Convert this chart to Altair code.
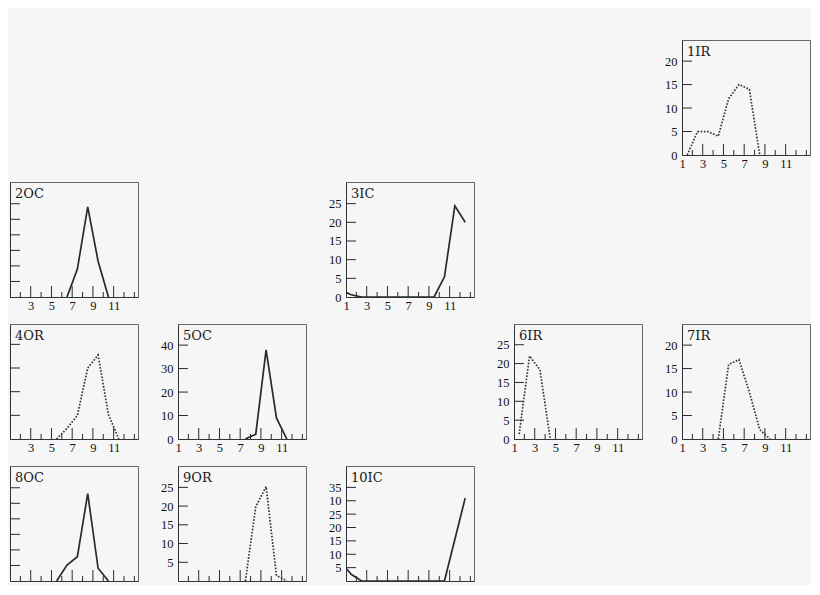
import altair as alt
import pandas as pd

# ---- data (month centres on x, counts on y) ----
names = ["1IR", "2OC", "3IC", "4OR", "5OC", "6IR", "7IR", "8OC", "9OR", "10IC"]

x_1IR = [1.5, 2.5, 3.5, 4.5, 5.5, 6.5, 7.5, 8.5]
y_1IR = [0, 5, 5, 4, 12, 15, 14, 0]

x_2OC = [6.5, 7.5, 8.5, 9.5, 10.5]
y_2OC = [0, 9, 29, 11.5, 0]

x_3IC = [0.5, 1.5, 2.5, 3.5, 4.5, 5.5, 6.5, 7.5, 8.5, 9.5, 10.5, 11.5, 12.5]
y_3IC = [1.8, 0.6, 0, 0, 0, 0, 0, 0, 0, 0, 5.4, 24.4, 20]

x_4OR = [5.5, 6.5, 7.5, 8.5, 9.5, 10.5, 11.5]
y_4OR = [0, 4.5, 10, 30, 35.5, 10.3, 0]

x_5OC = [7.5, 8.5, 9.5, 10.5, 11.5]
y_5OC = [0, 2, 38, 9, 0]

x_6IR = [1.5, 2.5, 3.5, 4.5]
y_6IR = [1.3, 22, 18.4, 0]

x_7IR = [4.5, 5.5, 6.5, 7.5, 8.5, 9.5]
y_7IR = [0, 15.9, 16.9, 10, 2, 0]

x_8OC = [5.5, 6.5, 7.5, 8.5, 9.5, 10.5]
y_8OC = [0, 5.1, 7.8, 28.1, 4.1, 0]

x_9OR = [7.5, 8.5, 9.5, 10.5, 11.5]
y_9OR = [0, 19.8, 25.2, 1.5, 0]

x_10IC = [0.5, 1.5, 2.5, 3.5, 4.5, 5.5, 6.5, 7.5, 8.5, 9.5, 10.5, 11.5, 12.5]
y_10IC = [7, 2.5, 0, 0, 0, 0, 0, 0, 0, 0, 0, 15.5, 31]

# y-axis extents and tick values per panel
ymax = {"1IR": 24.5, "2OC": 37, "3IC": 30.8, "4OR": 48.6, "5OC": 49,
        "6IR": 30.5, "7IR": 24.5, "8OC": 37, "9OR": 30.7, "10IC": 43}
yticks_5_20 = [0, 5, 10, 15, 20]
yticks_5_25 = [0, 5, 10, 15, 20, 25]
yticks_5_30 = [0, 5, 10, 15, 20, 25, 30]
yticks_5_35 = [0, 5, 10, 15, 20, 25, 30, 35]
yticks_10_40 = [0, 10, 20, 30, 40]
yticks = {"1IR": yticks_5_20, "2OC": yticks_5_30, "3IC": yticks_5_25,
          "4OR": yticks_10_40, "5OC": yticks_10_40, "6IR": yticks_5_25,
          "7IR": yticks_5_20, "8OC": yticks_5_30, "9OR": yticks_5_25,
          "10IC": yticks_5_35}

x_labels = [1, 3, 5, 7, 9, 11]
x_major = [3, 5, 7, 9, 11]
x_minor = [2, 4, 6, 8, 10, 12, 13]

series = {"1IR": (x_1IR, y_1IR), "2OC": (x_2OC, y_2OC), "3IC": (x_3IC, y_3IC),
          "4OR": (x_4OR, y_4OR), "5OC": (x_5OC, y_5OC), "6IR": (x_6IR, y_6IR),
          "7IR": (x_7IR, y_7IR), "8OC": (x_8OC, y_8OC), "9OR": (x_9OR, y_9OR),
          "10IC": (x_10IC, y_10IC)}

# grid cell (row-major, 5 columns) of each panel
cell = {"1IR": 4, "2OC": 5, "3IC": 7, "4OR": 10, "5OC": 11, "6IR": 13,
        "7IR": 14, "8OC": 15, "9OR": 16, "10IC": 17}

FONT = "Liberation Serif"
TITLE_FONT = "DejaVu Serif"
W, H = 128, 115
XDOM = [1, 13.35]
INK = "#2a2a2a"


def panel(name):
    xs, ys = series[name]
    pos = cell[name]
    col = pos % 5
    row = pos // 5
    df = pd.DataFrame({"month": xs, "value": ys})
    xscale = alt.Scale(domain=XDOM, nice=False, zero=False)
    yscale = alt.Scale(domain=[0, ymax[name]], nice=False, zero=False)

    xvals = x_labels if col != 0 else x_labels[1:]
    xaxis = alt.Axis(values=xvals, ticks=False, tickSize=0, grid=False,
                     labels=(row != 3), title=None, labelPadding=2,
                     labelFlush=False)
    expr = None
    if name == "10IC":
        expr = "datum.value == 0 ? '' : (datum.value == 30 ? '10' : datum.label)"
    elif row == 3:
        expr = "datum.value == 0 ? '' : datum.label"
    yaxis_kw = dict(values=yticks[name], ticks=False, tickSize=0, grid=False,
                    labels=(col != 0), title=None, labelPadding=5)
    if expr:
        yaxis_kw["labelExpr"] = expr
    yaxis = alt.Axis(**yaxis_kw)

    mark_kw = dict(clip=True, strokeWidth=1.7, color=INK)
    if name.endswith("R"):
        mark_kw["strokeDash"] = [1.6, 1.6]
        mark_kw["color"] = "#333"
    line = alt.Chart(df).mark_line(**mark_kw).encode(
        x=alt.X("month:Q", scale=xscale, axis=xaxis),
        y=alt.Y("value:Q", scale=yscale, axis=yaxis),
    )
    xt_major = alt.Chart(pd.DataFrame({"month": x_major})).mark_rule(
        color=INK, strokeWidth=1).encode(
        x=alt.X("month:Q", scale=xscale, axis=xaxis),
        y=alt.value(H), y2=alt.value(H - 11))
    xt_minor = alt.Chart(pd.DataFrame({"month": x_minor})).mark_rule(
        color=INK, strokeWidth=1).encode(
        x=alt.X("month:Q", scale=xscale, axis=xaxis),
        y=alt.value(H), y2=alt.value(H - 5))
    yt = alt.Chart(pd.DataFrame({"value": [v for v in yticks[name] if v > 0]})).mark_rule(
        color=INK, strokeWidth=1).encode(
        y=alt.Y("value:Q", scale=yscale, axis=yaxis),
        x=alt.value(0), x2=alt.value(10))
    label = alt.Chart(pd.DataFrame({"label": [name]})).mark_text(
        align="left", baseline="alphabetic", font=TITLE_FONT, fontSize=13,
        color="#1a1a1a").encode(x=alt.value(5), y=alt.value(15.5), text="label:N")
    return alt.layer(line, xt_major, xt_minor, yt, label).properties(
        width=W, height=H, view=alt.ViewBackground(stroke="#666", strokeWidth=1))


def empty():
    base = alt.Chart(pd.DataFrame({"v": [0]})).mark_point(opacity=0).encode(
        x=alt.X("v:Q", axis=None), y=alt.Y("v:Q", axis=None))
    return alt.layer(base).properties(
        width=W, height=H, view=alt.ViewBackground(stroke="transparent"))


by_cell = {cell[n]: n for n in names}
charts = []
for i in range(18):
    charts.append(panel(by_cell[i]) if i in by_cell else empty())

chart = alt.concat(
    *charts, columns=5, spacing={"row": 27, "column": 40}, bounds="flush"
).properties(
    padding={"left": 1, "top": 31, "right": 0, "bottom": 3},
    background="#f6f6f6",
).configure_axis(
    labelFont=FONT, labelFontSize=12.5, labelColor="#111",
    domainColor="#333", domainWidth=1, grid=False,
).configure_view(stroke="transparent")

chart.save("out.html", embed_options={"renderer": "svg", "actions": False})
